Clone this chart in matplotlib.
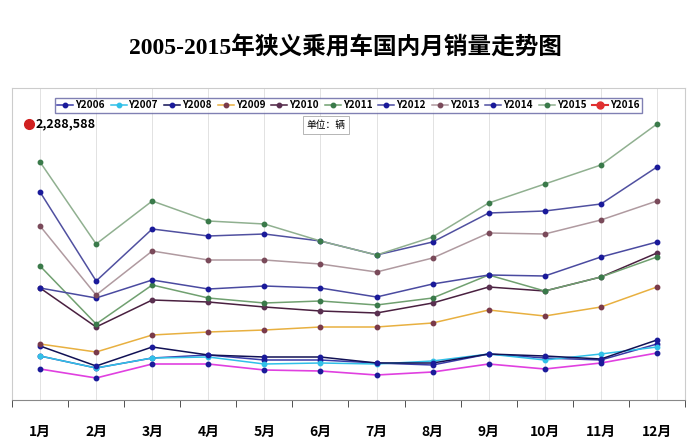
import matplotlib
matplotlib.use("Agg")
import matplotlib.pyplot as plt

plt.rcParams['font.family'] = ['Noto Sans CJK SC', 'DejaVu Sans']

months = ["1月","2月","3月","4月","5月","6月","7月","8月","9月","10月","11月","12月"]
# relative values (arbitrary units)
y2015 = [238,156,199,179,176,159,145,163,197,216,235,276]
y2014 = [208,119,171,164,166,159,145,158,187,189,196,233]
y2013 = [174,105,149,140,140,136,128,142,167,166,180,199]
y2012 = [112,102,120,111,114,112,103,116,125,124,143,158]
y2011 = [134,76,115,102,97,99,95,102,125,109,123,143]
y2010 = [112,73,100,98,93,89,87,97,113,109,123,147]
y2009 = [56,48,65,68,70,73,73,77,90,84,93,113]
y2008 = [54,34,53,45,43,43,37,37,46,44,41,60]
y2007 = [44,32,42,43,36,37,36,39,46,40,46,53]
y2006 = [44,32,42,45,40,40,37,35,46,42,40,56]
y_low = [31,22,36,36,30,29,25,28,36,31,37,47]

series = [
    ("Y2006", y2006, "#3a3aa8", "#1a1a9a"),
    ("Y2007", y2007, "#30c0e8", "#30c0e8"),
    ("Y2008", y2008, "#111155", "#1a1a9a"),
    ("Y2009", y2009, "#e8b040", "#7a3a4a"),
    ("Y2010", y2010, "#4a2040", "#5a3050"),
    ("Y2011", y2011, "#70a070", "#3a7a4a"),
    ("Y2012", y2012, "#4a4aa0", "#1a1a9a"),
    ("Y2013", y2013, "#b09aa0", "#7a4a5a"),
    ("Y2014", y2014, "#5050a0", "#1a1a9a"),
    ("Y2015", y2015, "#90b090", "#3a7a4a"),
]

fig = plt.figure(figsize=(6.92, 4.46), dpi=100)
ax = fig.add_axes([12/692, 1-400/446, (685-12)/692, (400-88)/446])
x = list(range(1, 13))
for m in x:
    ax.axvline(m, color="#dddddd", lw=0.6, zorder=0)
ax.plot(x, y_low, color="#e040e0", lw=1.2, marker="o", ms=3.2, mfc="#1a1a9a", mec="#1a1a9a")
handles = []
for name, vals, lc, mc in series:
    h, = ax.plot(x, vals, color=lc, lw=1.1, marker="o", ms=3.2, mfc=mc, mec=mc, label=name)
    handles.append(h)
h16, = ax.plot([], [], color="#e03030", lw=1.5, marker="o", ms=5, label="Y2016")
handles.append(h16)

ax.set_xlim(0.67, 12.35)
ax.set_ylim(0, 312)
ax.set_yticks([])
ax.set_xticks(x)
ax.set_xticklabels(months, fontweight="bold", fontsize=10)
ax.set_xticks([m + 0.5 for m in range(0, 13)], minor=True)
ax.tick_params(axis="x", which="major", length=0, pad=18)
ax.tick_params(axis="x", which="minor", length=5, color="#333333")
for s in ["left", "right", "top"]:
    ax.spines[s].set_color("#cccccc")
ax.spines["bottom"].set_color("#888888")

leg = ax.legend(handles=handles, loc="upper center", bbox_to_anchor=(0.5, 0.985), ncol=11,
                prop={"weight": "bold", "size": 7.2}, handlelength=1.6,
                handletextpad=0.2, columnspacing=0.6, frameon=True, fancybox=False,
                borderpad=0.25, edgecolor="#6060a0")

ax.plot([1-0.2], [276], "o", color="#d02020", ms=7, clip_on=False)
ax.text(1-0.08, 276, "2,288,588", fontsize=9, fontweight="bold", va="center")
ax.text(6.1, 275, "单位：辆", fontsize=7, ha="center", va="center",
        bbox=dict(boxstyle="square,pad=0.4", fc="white", ec="#aaaaaa", lw=0.6))

fig.text(0.5, 1-47/446, "2005-2015年狭义乘用车国内月销量走势图", ha="center", va="center",
         fontsize=17, fontweight="bold", family=["Liberation Serif", "Noto Sans CJK SC"])
fig.savefig("out.png", dpi=100)
